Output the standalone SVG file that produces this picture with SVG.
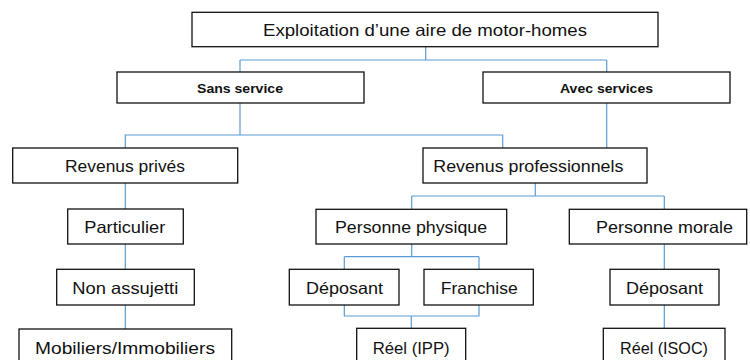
<svg xmlns="http://www.w3.org/2000/svg" width="750" height="360" viewBox="0 0 750 360">
<style>
.box{fill:#fff;stroke:#111;stroke-width:1.3}
.t{font-family:"Liberation Sans",Arial,sans-serif;font-size:16.5px;fill:#111}
.b{font-family:"Liberation Sans",Arial,sans-serif;font-size:13px;font-weight:bold;fill:#111}
.c{fill:none;stroke:#5b9bd5;stroke-width:1.2}
</style>
<rect width="750" height="360" fill="#fff"/>
<g id="connectors">
<path class="c" d="M425.7 46.7V60M240 60H606.7M240 60V72M606.7 60V72"/>
<path class="c" d="M240 103V135H125.3V148M240 135H502.7V148"/>
<path class="c" d="M606.7 103V148"/>
<path class="c" d="M125.3 183V209M125.3 244V269.3M125.3 305V329"/>
<path class="c" d="M535.3 183V196M411.7 196H664.3M411.7 196V209.3M664.3 196V209.3"/>
<path class="c" d="M411.7 244V256.7M344.3 256.7H479M344.3 256.7V269.3M479 256.7V269.3"/>
<path class="c" d="M344.3 305V316H479V305M411.3 316V328.3"/>
<path class="c" d="M664.3 244V269.3M664.3 305V328.3"/>
</g>
<g id="n-top"><rect class="box" x="192" y="12.3" width="466" height="34.4"/><text class="t" x="263" y="35.5" textLength="324" lengthAdjust="spacingAndGlyphs">Exploitation d’une aire de motor-homes</text></g>
<g id="n-sans"><rect class="box" x="117" y="72" width="247" height="31"/><text class="b" x="197" y="92.5" textLength="86" lengthAdjust="spacingAndGlyphs">Sans service</text></g>
<g id="n-avec"><rect class="box" x="483" y="72" width="247" height="31"/><text class="b" x="560" y="92.5" textLength="93" lengthAdjust="spacingAndGlyphs">Avec services</text></g>
<g id="n-revprives"><rect class="box" x="12.7" y="148" width="225" height="35"/><text class="t" x="65" y="171.5" textLength="120" lengthAdjust="spacingAndGlyphs">Revenus privés</text></g>
<g id="n-revpro"><rect class="box" x="423" y="148" width="224" height="35"/><text class="t" x="433.3" y="171.5" textLength="190" lengthAdjust="spacingAndGlyphs">Revenus professionnels</text></g>
<g id="n-particulier"><rect class="box" x="67.7" y="209" width="115.6" height="35"/><text class="t" x="84.3" y="232.5" textLength="81" lengthAdjust="spacingAndGlyphs">Particulier</text></g>
<g id="n-nonassujetti"><rect class="box" x="56.7" y="269.3" width="137.6" height="35.7"/><text class="t" x="72.3" y="293.5" textLength="106" lengthAdjust="spacingAndGlyphs">Non assujetti</text></g>
<g id="n-mobiliers"><rect class="box" x="19" y="329" width="212.7" height="41"/><text class="t" x="35" y="353.5" textLength="180" lengthAdjust="spacingAndGlyphs">Mobiliers/Immobiliers</text></g>
<g id="n-physique"><rect class="box" x="316" y="209.3" width="190.7" height="34.7"/><text class="t" x="335" y="232.5" textLength="152" lengthAdjust="spacingAndGlyphs">Personne physique</text></g>
<g id="n-morale"><rect class="box" x="569.3" y="209.3" width="177.4" height="34.7"/><text class="t" x="596" y="232.5" textLength="137" lengthAdjust="spacingAndGlyphs">Personne morale</text></g>
<g id="n-deposant1"><rect class="box" x="289.3" y="269.3" width="109.7" height="35.7"/><text class="t" x="306" y="293.5" textLength="77" lengthAdjust="spacingAndGlyphs">Déposant</text></g>
<g id="n-franchise"><rect class="box" x="424" y="269.3" width="109.3" height="35.7"/><text class="t" x="440.7" y="293.5" textLength="77" lengthAdjust="spacingAndGlyphs">Franchise</text></g>
<g id="n-deposant2"><rect class="box" x="610" y="269.3" width="109" height="35.7"/><text class="t" x="626" y="293.5" textLength="77" lengthAdjust="spacingAndGlyphs">Déposant</text></g>
<g id="n-reelipp"><rect class="box" x="356.7" y="328.3" width="109" height="41.7"/><text class="t" x="372.7" y="353.5" textLength="77" lengthAdjust="spacingAndGlyphs">Réel (IPP)</text></g>
<g id="n-reelisoc"><rect class="box" x="603.3" y="328.3" width="121.7" height="41.7"/><text class="t" x="620" y="353.5" textLength="88" lengthAdjust="spacingAndGlyphs">Réel (ISOC)</text></g>
</svg>
